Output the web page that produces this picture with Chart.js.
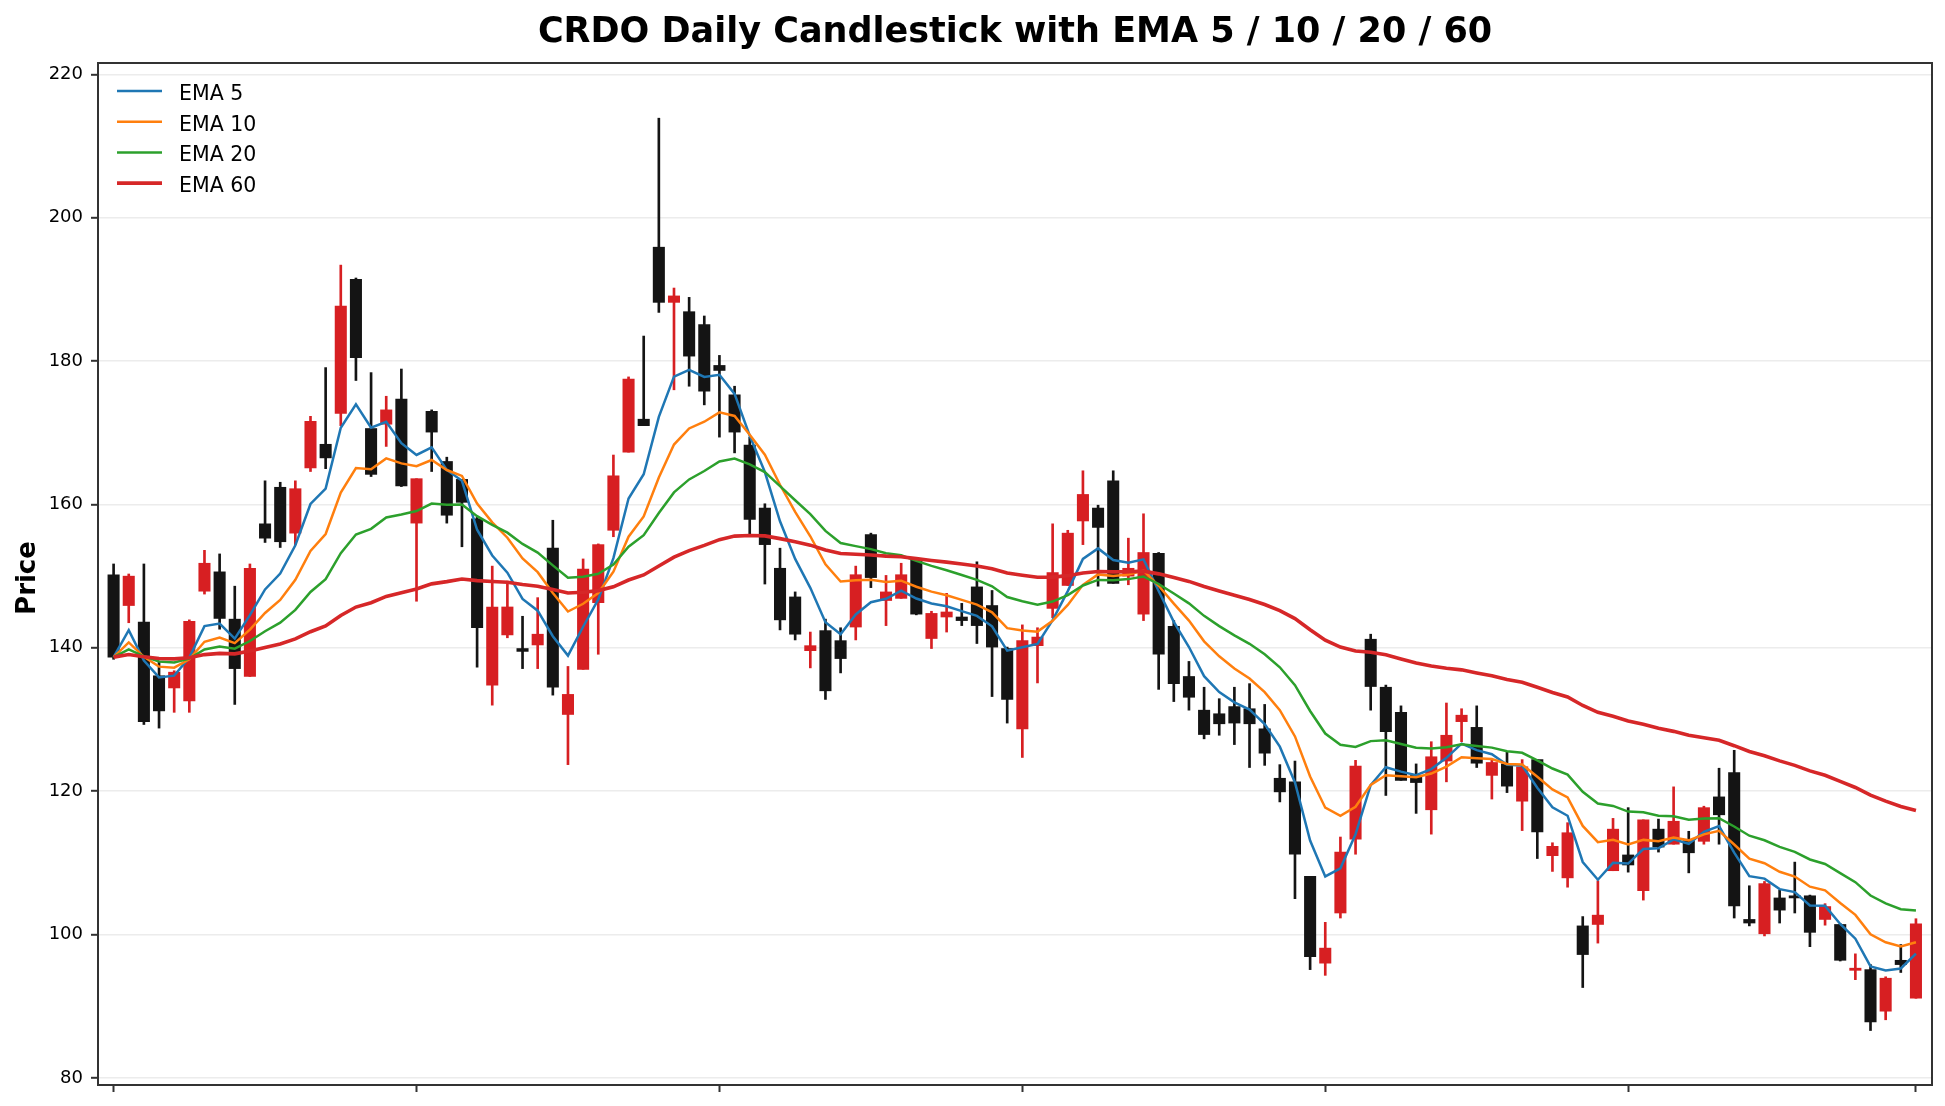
<!DOCTYPE html>
<html>
<head>
<meta charset="utf-8">
<script src="https://cdn.jsdelivr.net/npm/chart.js@4.4.1/dist/chart.umd.min.js"></script>
<style>
html,body{margin:0;padding:0;background:#ffffff;}
#wrap{width:1945px;height:1106px;position:relative;}
canvas{display:block;}
</style>
</head>
<body>
<div id="wrap"><canvas id="chart" width="1945" height="1106"></canvas></div>
<script>
// ---------- data ----------
const dayIndex = [
  0,1,2,3,4,5,6,7,8,9,10,11,12,13,14,15,16,17,18,19,
  20,21,22,23,24,25,26,27,28,29,30,31,32,33,34,35,36,37,38,39,
  40,41,42,43,44,45,46,47,48,49,50,51,52,53,54,55,56,57,58,59,
  60,61,62,63,64,65,66,67,68,69,70,71,72,73,74,75,76,77,78,79,
  80,81,82,83,84,85,86,87,88,89,90,91,92,93,94,95,96,97,98,99,
  100,101,102,103,104,105,106,107,108,109,110,111,112,113,114,115,116,117,118,119
];
const openPrices = [
  150.2,145.9,143.6,136.1,134.4,132.6,147.9,150.6,144.0,136.0,
  157.3,162.4,156.0,165.1,168.4,172.7,191.4,170.6,171.2,174.7,
  157.4,173.0,166.0,163.5,158.0,134.8,141.8,139.9,140.4,153.9,
  130.7,137.0,146.3,156.4,167.3,171.9,195.9,188.2,186.9,185.1,
  179.4,175.3,168.3,159.5,151.1,147.1,139.6,142.4,141.0,142.9,
  155.8,146.6,146.9,152.3,141.3,144.3,144.3,148.5,145.9,139.9,
  128.7,140.3,145.5,148.7,157.7,159.5,163.3,150.0,144.7,153.2,
  143.0,136.0,131.3,130.8,131.8,131.5,128.7,121.8,121.3,108.1,
  96.0,103.0,113.3,141.2,134.5,131.0,122.2,117.4,124.2,129.7,
  128.9,122.2,123.8,118.6,124.4,111.0,107.9,101.2,101.4,108.9,
  111.1,106.1,114.7,112.6,113.1,113.0,119.2,122.6,102.1,100.1,
  105.1,105.4,105.4,102.1,101.4,95.0,95.1,89.3,96.4,91.1
];
const highPrices = [
  151.7,150.3,151.7,138.0,136.8,143.9,153.6,153.1,148.6,151.7,
  163.3,163.1,163.3,172.3,179.1,193.4,191.6,178.4,175.1,178.9,
  163.6,173.2,166.6,163.5,158.2,151.4,149.3,144.4,147.0,157.8,
  137.4,152.4,154.5,166.9,177.8,183.5,213.9,190.2,188.9,186.3,
  180.8,176.5,169.4,160.1,153.9,147.8,142.2,144.0,142.8,151.4,
  156.0,150.1,151.8,152.6,145.1,147.6,146.2,152.0,148.0,140.1,
  143.2,142.8,157.3,156.4,164.7,159.9,164.7,155.3,158.7,153.3,
  143.8,138.1,134.5,132.9,134.5,135.0,132.1,123.7,124.2,108.1,
  101.7,113.6,124.3,141.9,134.8,131.9,123.8,126.9,132.3,131.5,
  131.9,124.4,125.5,124.4,124.4,112.8,115.6,102.5,107.5,116.2,
  117.7,116.0,116.1,120.6,114.4,117.9,123.2,125.7,106.8,107.4,
  106.2,110.1,105.5,104.3,101.5,97.3,95.8,94.1,98.6,102.2
];
const lowPrices = [
  138.4,143.5,129.3,128.8,131.0,131.0,147.5,142.6,132.1,136.0,
  154.7,154.0,154.4,164.6,165.0,171.0,177.3,163.9,168.1,162.5,
  146.5,164.6,157.4,154.1,137.3,132.0,141.4,137.1,137.1,133.4,
  123.7,137.0,139.1,155.5,167.3,171.0,186.8,176.0,176.5,173.9,
  169.4,167.2,155.8,148.9,142.5,141.1,137.2,132.8,136.5,141.1,
  148.4,143.1,146.9,144.6,139.9,142.2,143.1,140.6,133.2,129.5,
  124.7,135.1,144.2,148.7,154.4,148.6,149.0,148.8,143.8,134.2,
  132.5,131.3,127.3,127.8,126.5,123.3,123.6,118.5,105.0,95.1,
  94.3,102.3,111.2,131.3,119.4,121.5,116.9,114.0,121.3,126.9,
  123.3,118.9,119.8,114.5,110.6,108.8,106.6,92.6,98.8,108.9,
  108.7,104.8,111.5,112.6,108.6,112.6,112.6,102.3,101.2,99.8,
  101.6,103.0,98.3,101.3,96.3,93.7,86.6,88.1,94.7,91.1
];
const closePrices = [
  138.7,150.0,129.7,131.2,136.6,143.7,151.8,144.1,137.1,151.1,
  155.3,154.8,162.2,171.6,166.5,187.7,180.5,164.2,173.2,162.6,
  163.6,170.1,158.5,160.3,142.8,145.7,145.7,139.5,141.9,134.5,
  133.5,151.0,154.4,164.0,177.5,171.0,188.2,189.1,180.7,175.8,
  178.7,170.1,157.9,154.4,143.9,141.9,140.3,134.0,138.5,150.2,
  149.8,147.8,150.2,144.7,144.8,145.0,143.8,143.1,140.1,132.8,
  141.0,141.5,150.5,156.0,161.4,156.8,149.0,151.1,153.3,139.1,
  135.0,133.1,127.9,129.4,129.5,129.4,125.3,119.9,111.2,96.9,
  98.1,111.5,123.5,134.6,128.3,121.5,121.2,124.8,127.8,130.6,
  123.9,124.0,120.7,123.4,114.3,112.3,114.2,97.2,102.7,114.7,
  109.7,116.0,112.2,115.8,111.4,117.7,116.7,104.0,101.6,107.1,
  103.4,105.1,100.3,103.9,96.4,95.3,87.8,93.9,95.8,101.5
];
const emaSpans = [5, 10, 20, 60];
const emaLabels = ['EMA 5', 'EMA 10', 'EMA 20', 'EMA 60'];
const xTickValues = [0, 20, 40, 60, 80, 100, 119];
const yTickValues = [80, 100, 120, 140, 160, 180, 200, 220];
const chartTitle = 'CRDO Daily Candlestick with EMA 5 / 10 / 20 / 60';
const yAxisTitle = 'Price';

// ---------- styles ----------
const UP_COLOR = '#d71f22';
const DOWN_COLOR = '#141414';
const EMA_COLORS = ['#1f77b4', '#ff7f0e', '#2ca02c', '#d62728'];
const EMA_WIDTHS = [2.5, 2.5, 2.5, 3.6];
const FONT = "'DejaVu Sans', 'Liberation Sans', sans-serif";
const SPINE = '#333333';

// exponential moving average of the closes (same as the indicator in the title)
function ema(values, span) {
  const a = 2 / (span + 1);
  const out = [];
  let prev = values[0];
  values.forEach((v, i) => {
    prev = i === 0 ? v : a * v + (1 - a) * prev;
    out.push(prev);
  });
  return out;
}

const candleColors = dayIndex.map(i => closePrices[i] >= openPrices[i] ? UP_COLOR : DOWN_COLOR);

const emaDatasets = emaSpans.map((span, k) => {
  const vals = ema(closePrices, span);
  return {
    type: 'line',
    label: emaLabels[k],
    data: dayIndex.map(i => ({ x: i, y: vals[i] })),
    borderColor: EMA_COLORS[k],
    backgroundColor: EMA_COLORS[k],
    borderWidth: EMA_WIDTHS[k],
    pointRadius: 0,
    tension: 0,
    fill: false,
    order: 3 - k,
    isEma: true
  };
});

const wickDataset = {
  type: 'bar',
  label: 'wick',
  data: dayIndex.map(i => ({ x: i, y: [lowPrices[i], highPrices[i]] })),
  backgroundColor: candleColors,
  borderWidth: 0,
  barThickness: 2,
  grouped: false,
  order: 6
};
const bodyDataset = {
  type: 'bar',
  label: 'body',
  data: dayIndex.map(i => ({ x: i, y: [openPrices[i], closePrices[i]] })),
  backgroundColor: candleColors,
  borderColor: candleColors,
  borderWidth: 0,
  barThickness: 11.4,
  minBarLength: 2,
  grouped: false,
  order: 5
};

const decorPlugin = {
  id: 'decor',
  afterDraw(chart) {
    const ctx = chart.ctx;
    const a = chart.chartArea;
    ctx.save();
    // full frame (top and right spines)
    ctx.strokeStyle = SPINE;
    ctx.lineWidth = 2;
    ctx.strokeRect(a.left, a.top, a.right - a.left, a.bottom - a.top);
    // title
    ctx.fillStyle = '#000';
    ctx.font = "bold 35px " + FONT;
    ctx.textAlign = 'center';
    ctx.textBaseline = 'alphabetic';
    ctx.fillText(chartTitle, (a.left + a.right) / 2, 41.7);
    // y axis title
    ctx.save();
    ctx.translate(35, 578);
    ctx.rotate(-Math.PI / 2);
    ctx.font = "bold 26px " + FONT;
    ctx.textAlign = 'center';
    ctx.fillText(yAxisTitle, 0, 0);
    ctx.restore();
    // legend
    const items = chart.data.datasets.filter(d => d.isEma);
    items.forEach((d, k) => {
      const y = a.top + 28 + k * 30.7;
      ctx.strokeStyle = d.borderColor;
      ctx.lineWidth = d.borderWidth;
      ctx.beginPath();
      ctx.moveTo(a.left + 19, y);
      ctx.lineTo(a.left + 64, y);
      ctx.stroke();
      ctx.fillStyle = '#000';
      ctx.font = "20.5px " + FONT;
      ctx.textAlign = 'left';
      ctx.textBaseline = 'alphabetic';
      ctx.fillText(d.label, a.left + 81, y + 8.8);
    });
    ctx.restore();
  }
};

new Chart(document.getElementById('chart'), {
  data: { datasets: [...emaDatasets, bodyDataset, wickDataset] },
  options: {
    responsive: false,
    animation: false,
    devicePixelRatio: 1,
    layout: { padding: { top: 63, right: 13, bottom: 0, left: 0 } },
    plugins: {
      legend: { display: false },
      title: { display: false },
      tooltip: { enabled: false }
    },
    scales: {
      x: {
        type: 'linear',
        min: -1.03,
        max: 120.06,
        offset: false,
        grid: { offset: false, drawOnChartArea: false, drawTicks: true, tickLength: 7, tickColor: SPINE, tickWidth: 2, color: 'rgba(0,0,0,0)' },
        border: { display: true, color: SPINE, width: 2 },
        ticks: { callback: () => '', autoSkip: false, font: { size: 2 } },
        afterBuildTicks: s => { s.ticks = xTickValues.map(v => ({ value: v })); },
        afterFit: s => { s.height = 21; }
      },
      y: {
        type: 'linear',
        min: 79.0,
        max: 221.6,
        grid: { color: '#ececec', lineWidth: 1.6, drawTicks: true, tickLength: 7, tickColor: SPINE, tickWidth: 2 },
        border: { display: true, color: SPINE, width: 2 },
        ticks: { color: '#000', padding: 8, font: { family: FONT, size: 18 } },
        afterBuildTicks: s => { s.ticks = yTickValues.map(v => ({ value: v })); },
        afterFit: s => { s.width = 98; }
      }
    }
  },
  plugins: [decorPlugin]
});
</script>
</body>
</html>
